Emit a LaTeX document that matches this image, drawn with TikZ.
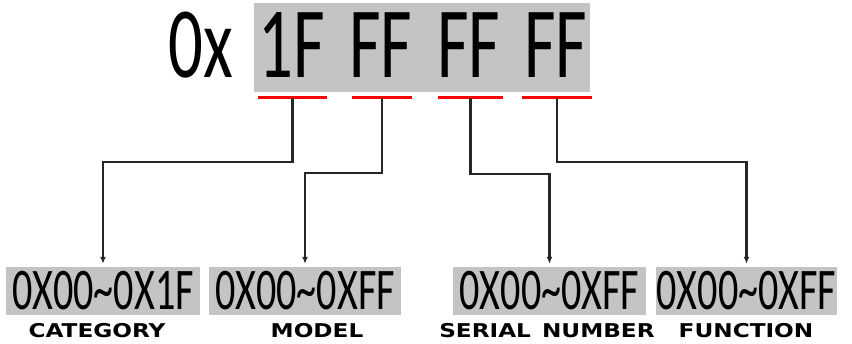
\documentclass[tikz,border=0pt]{standalone}
\usepackage{fontspec}
\usetikzlibrary{arrows.meta}
\newfontfamily\hexfont[FakeStretch=0.68]{Carlito}
\newfontfamily\tagfont[FakeStretch=1.22]{DejaVu Sans}
\definecolor{boxgray}{RGB}{196,196,196}
\definecolor{barred}{RGB}{255,0,0}

\begin{document}
\begin{tikzpicture}[x=1pt,y=-1pt,
    bigdigit/.style={font=\hexfont\fontsize{101}{101}\selectfont,inner sep=0pt},
    range/.style={fill=boxgray,minimum width=#1,minimum height=48pt,inner sep=0pt,
      font=\hexfont\fontsize{59}{59}\selectfont},
    tag/.style={anchor=base,inner sep=0pt,font=\tagfont\bfseries\fontsize{19}{19}\selectfont},
    redbar/.style={barred,line width=3pt},
    link/.style={line width=2.2pt,draw=black!85,-{Latex[length=7pt,width=6pt]},shorten >=3pt}]
    \useasboundingbox (0,0) rectangle (852,344);

    % the value
    \fill[boxgray] (254,3) rectangle (590,92);
    \node[bigdigit] (pre) at (200.5,45) {0x};
    \node[bigdigit] (b1) at (291.5,45) {1F};
    \node[bigdigit] (b2) at (381,45) {FF};
    \node[bigdigit] (b3) at (469,45) {FF};
    \node[bigdigit] (b4) at (556,45) {FF};

    \draw[redbar] (258,98) -- (327,98) coordinate[midway] (u1);
    \draw[redbar] (352,98) -- (412,98) coordinate[midway] (u2);
    \draw[redbar] (438,98) -- (503,98) coordinate[midway] (u3);
    \draw[redbar] (522,98) -- (592,98) coordinate[midway] (u4);

    % the ranges
    \node[range=194pt] (r1) at (103,291) {0X00\textasciitilde 0X1F};
    \node[range=192pt] (r2) at (305,291) {0X00\textasciitilde 0XFF};
    \node[range=193pt] (r3) at (549.5,291) {0X00\textasciitilde 0XFF};
    \node[range=181pt] (r4) at (746.5,291) {0X00\textasciitilde 0XFF};

    \node[tag] (t1) at (97,338) {CATEGORY};
    \node[tag] (t2) at (317,338) {MODEL};
    \node[tag] (t3) at (547,338) {SERIAL\hspace{3pt} NUMBER};
    \node[tag] (t4) at (746,338) {FUNCTION};

    \draw[link] (u1) -- ++(0,64) -| (r1.north);
    \draw[link] (u2) -- ++(0,75) -| (r2.north);
    \draw[link] (u3) -- ++(0,76) -| (r3.north);
    \draw[link] (u4) -- ++(0,64) -| (r4.north);
\end{tikzpicture}
\end{document}
